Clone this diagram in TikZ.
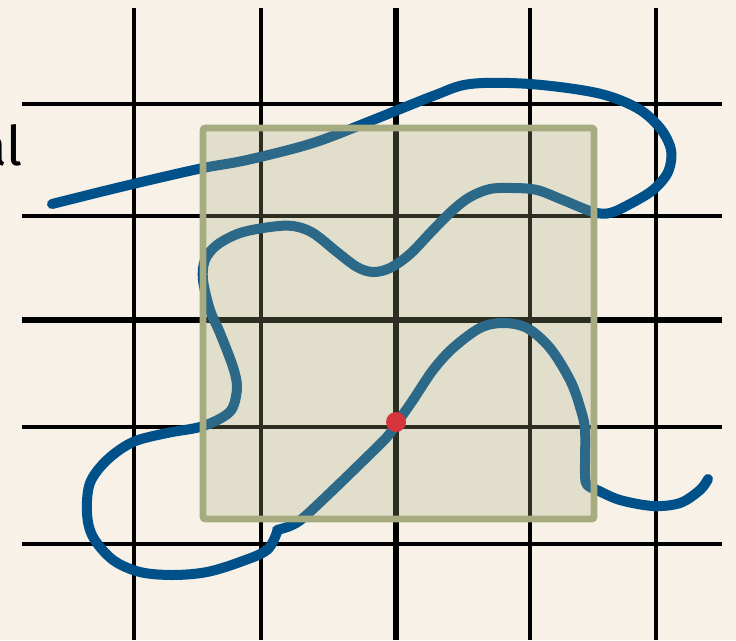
\documentclass[tikz,border=0pt]{standalone}
\usepackage{fontspec}
\setmainfont{Fira Sans}
\usetikzlibrary{calc}
\definecolor{paper}{RGB}{247,241,232}
\definecolor{ink}{RGB}{0,0,0}
\definecolor{pathblue}{RGB}{0,80,138}
\definecolor{olive}{RGB}{166,171,128}
\definecolor{dotred}{RGB}{214,54,59}

\begin{document}
\begin{tikzpicture}[x=0.75pt,y=-0.75pt,
  gridline/.style={ink, line width=2.6pt},
  axisline/.style={ink, line width=4pt},
  route/.style={pathblue, line width=7.5pt, line cap=round, line join=round},
  window/.style={olive, line width=5.2pt, fill=olive, fill opacity=0.27,
                 draw opacity=1, rounded corners=2pt},
  dot/.style={circle, fill=dotred, inner sep=0pt, minimum size=15pt}]

%---------------------------------------
% Canvas
%---------------------------------------
\def\Xmin{22}
\def\Xmax{722}
\def\Ytop{8}
\def\Ybot{640}

\fill[paper] (0,0) rectangle (736,640);
\useasboundingbox (0,0) rectangle (736,640);

% cut-off label on the left
\node[anchor=base east, inner sep=0pt, font=\fontsize{41}{41}\selectfont] (lbl) at (23,165) {al};

%---------------------------------------
% Grid
%---------------------------------------
\foreach \gx in {134,261,530,656}
  \draw[gridline] (\gx,\Ytop) -- (\gx,\Ybot);
\foreach \gy in {104,216,427,544}
  \draw[gridline] (\Xmin,\gy) -- (\Xmax,\gy);

% centre lines a bit heavier
\draw[axisline] (396,\Ytop) -- (396,\Ybot);
\draw[axisline] (\Xmin,320) -- (\Xmax,320);

%---------------------------------------
% Hand-drawn path (two strokes)
%---------------------------------------
\draw[route] plot[smooth, tension=0.55] coordinates {
  (52,204) (100,192) (150,180) (203,168) (247,160) (313,143) (373,120)
  (433,96) (470,84) (530,84) (597,93) (637,108) (660,128) (671,150)
  (668,172) (653,190) (630,204) (610,213) (593,212) (563,200) (537,190)
  (513,188) (490,189) (470,197) (453,210) (433,230) (410,254) (390,268)
  (373,272) (357,267) (337,252) (313,233) (293,226) (270,227) (240,233)
  (217,245) (205,260) (203,280) (210,310) (220,333) (233,367) (237,387)
  (233,407) (223,417) (200,427) (167,433) (133,442) (107,460) (90,483)
  (87,513) (93,537) (113,560) (140,572) (173,575) (207,572) (240,562)
  (267,550) (277,532)};
\draw[route] plot[smooth, tension=0.55] coordinates {
  (277,530) (290,526) (303,518) (333,490) (367,457) (387,437) (397,423)
  (413,400) (433,370) (453,348) (480,328) (503,323) (527,328) (550,348)
  (570,380) (580,407) (585,430) (585,473) (587,485) (597,490) (620,500)
  (653,506) (680,503) (700,490) (708,479)};

%---------------------------------------
% Window and marked point
%---------------------------------------
\draw[window] (203,128) rectangle (594,519);

\node[dot] (pt) at (396,422) {};

\end{tikzpicture}
\end{document}
